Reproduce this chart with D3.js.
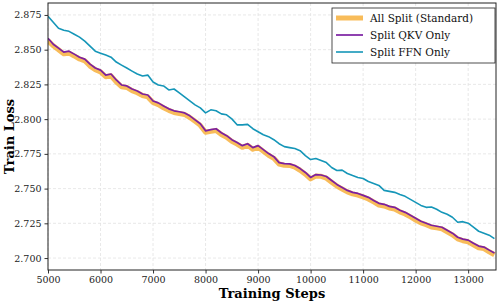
<!DOCTYPE html>
<html>
<head>
<meta charset="utf-8">
<script src="https://cdn.jsdelivr.net/npm/d3@7"></script>
<style>
  body { margin: 0; background: #fff; }
  svg { display: block; font-family: "DejaVu Serif", serif; }
</style>
</head>
<body>
<div class="chart"></div>
<script>
// Chart size
var svgWidth = 498;
var svgHeight = 303;

var margin = { top: 3, right: 2, bottom: 33, left: 48 };
var width = svgWidth - margin.left - margin.right;
var height = svgHeight - margin.top - margin.bottom;

// Data, one value every 100 steps
var steps = d3.range(5000, 13501, 100);

var allSplit = [
  2.8565, 2.8528, 2.8500, 2.8470, 2.8475, 2.8455, 2.8433, 2.8420, 2.8382, 2.8356,
  2.8340, 2.8305, 2.8312, 2.8268, 2.8233, 2.8228, 2.8205, 2.8190, 2.8170, 2.8160,
  2.8120, 2.8104, 2.8082, 2.8063, 2.8048, 2.8040, 2.8034, 2.8012, 2.7984, 2.7955,
  2.7905, 2.7912, 2.7918, 2.7890, 2.7870, 2.7840, 2.7820, 2.7797, 2.7812, 2.7783,
  2.7797, 2.7768, 2.7740, 2.7718, 2.7677, 2.7668, 2.7667, 2.7655, 2.7632, 2.7604,
  2.7570, 2.7590, 2.7588, 2.7575, 2.7546, 2.7518, 2.7497, 2.7476, 2.7462, 2.7453,
  2.7440, 2.7425, 2.7404, 2.7382, 2.7375, 2.7360, 2.7353, 2.7332, 2.7317, 2.7296,
  2.7274, 2.7253, 2.7240, 2.7224, 2.7217, 2.7210, 2.7188, 2.7167, 2.7138, 2.7125,
  2.7117, 2.7095, 2.7074, 2.7068, 2.7045, 2.7024
];

var splitQKV = [
  2.8582, 2.8539, 2.8511, 2.8482, 2.8489, 2.8468, 2.8446, 2.8432, 2.8396, 2.8368,
  2.8353, 2.8317, 2.8325, 2.8282, 2.8246, 2.8239, 2.8217, 2.8203, 2.8181, 2.8174,
  2.8131, 2.8117, 2.8095, 2.8074, 2.8060, 2.8053, 2.8045, 2.8024, 2.7995, 2.7967,
  2.7916, 2.7924, 2.7931, 2.7902, 2.7881, 2.7852, 2.7831, 2.7809, 2.7823, 2.7795,
  2.7809, 2.7780, 2.7752, 2.7730, 2.7687, 2.7680, 2.7678, 2.7666, 2.7644, 2.7616,
  2.7580, 2.7601, 2.7598, 2.7587, 2.7558, 2.7530, 2.7508, 2.7487, 2.7473, 2.7465,
  2.7451, 2.7437, 2.7415, 2.7394, 2.7387, 2.7372, 2.7365, 2.7344, 2.7329, 2.7308,
  2.7286, 2.7265, 2.7251, 2.7236, 2.7229, 2.7222, 2.7200, 2.7179, 2.7150, 2.7136,
  2.7129, 2.7107, 2.7086, 2.7079, 2.7057, 2.7036
];

var splitFFN = [
  2.8740, 2.8697, 2.8654, 2.8640, 2.8632, 2.8611, 2.8590, 2.8561, 2.8525, 2.8489,
  2.8475, 2.8461, 2.8446, 2.8411, 2.8389, 2.8368, 2.8346, 2.8325, 2.8310, 2.8317,
  2.8267, 2.8246, 2.8239, 2.8210, 2.8217, 2.8189, 2.8160, 2.8131, 2.8103, 2.8081,
  2.8045, 2.8067, 2.8060, 2.8038, 2.8031, 2.8002, 2.7959, 2.7959, 2.7962, 2.7931,
  2.7909, 2.7888, 2.7874, 2.7852, 2.7823, 2.7802, 2.7795, 2.7788, 2.7773, 2.7737,
  2.7709, 2.7716, 2.7702, 2.7687, 2.7652, 2.7630, 2.7633, 2.7609, 2.7594, 2.7580,
  2.7573, 2.7551, 2.7537, 2.7523, 2.7487, 2.7480, 2.7473, 2.7458, 2.7444, 2.7422,
  2.7401, 2.7379, 2.7365, 2.7368, 2.7351, 2.7329, 2.7315, 2.7294, 2.7258, 2.7262,
  2.7251, 2.7222, 2.7193, 2.7179, 2.7165, 2.7140
];

var xTicks = [5000, 6000, 7000, 8000, 9000, 10000, 11000, 12000, 13000];
var yTicks = [2.700, 2.725, 2.750, 2.775, 2.800, 2.825, 2.850, 2.875];

var seriesNames = ["All Split (Standard)", "Split QKV Only", "Split FFN Only"];
var seriesValues = [allSplit, splitQKV, splitFFN];
var seriesColors = ["#f5a623", "#7b1fa2", "#1596b8"];
var seriesWidths = [5, 1.7, 1.6];
var seriesOpacity = [0.75, 1, 1];

var svg = d3.select(".chart")
  .append("svg")
  .attr("width", svgWidth)
  .attr("height", svgHeight);

var chartGroup = svg.append("g")
  .attr("transform", `translate(${margin.left}, ${margin.top})`);

// scales
var xScale = d3.scaleLinear().domain([5000, 13530]).range([0, width]);
var yScale = d3.scaleLinear().domain([2.6914, 2.8836]).range([height, 0]);

// grid
chartGroup.append("g")
  .selectAll("line")
  .data(xTicks)
  .enter()
  .append("line")
  .attr("x1", d => xScale(d)).attr("x2", d => xScale(d))
  .attr("y1", 0).attr("y2", height)
  .attr("stroke", "#e2e2e2")
  .attr("stroke-width", 0.8)
  .attr("stroke-dasharray", "3,2");

chartGroup.append("g")
  .selectAll("line")
  .data(yTicks)
  .enter()
  .append("line")
  .attr("x1", 0).attr("x2", width)
  .attr("y1", d => yScale(d)).attr("y2", d => yScale(d))
  .attr("stroke", "#e2e2e2")
  .attr("stroke-width", 0.8)
  .attr("stroke-dasharray", "3,2");

// lines
var line = d3.line()
  .x((d, i) => xScale(steps[i]))
  .y(d => yScale(d));

chartGroup.append("defs").append("clipPath").attr("id", "plotClip")
  .append("rect").attr("width", width).attr("height", height);

var linesGroup = chartGroup.append("g").attr("clip-path", "url(#plotClip)");
seriesValues.forEach(function(vals, i) {
  linesGroup.append("path")
    .datum(vals)
    .attr("d", line)
    .attr("fill", "none")
    .attr("stroke", seriesColors[i])
    .attr("stroke-width", seriesWidths[i])
    .attr("stroke-opacity", seriesOpacity[i])
    .attr("stroke-linejoin", "round");
});

// axes
var bottomAxis = d3.axisBottom(xScale).tickValues(xTicks).tickFormat(d3.format("d")).tickSize(3.5).tickPadding(3);
var leftAxis = d3.axisLeft(yScale).tickValues(yTicks).tickFormat(d3.format(".3f")).tickSize(3.5).tickPadding(3);

var xAxis = chartGroup.append("g")
  .attr("transform", `translate(0, ${height})`)
  .call(bottomAxis);
var yAxis = chartGroup.append("g").call(leftAxis);

[xAxis, yAxis].forEach(function(ax) {
  ax.select(".domain").remove();
  ax.selectAll("text").attr("font-size", 9.5).attr("fill", "#222")
    .attr("font-family", "DejaVu Serif, serif");
  ax.selectAll("line").attr("stroke", "#333");
});

// frame
chartGroup.append("rect")
  .attr("width", width)
  .attr("height", height)
  .attr("fill", "none")
  .attr("stroke", "#222")
  .attr("stroke-width", 1);

// axis labels
svg.append("text")
  .attr("x", margin.left + width / 2)
  .attr("y", 298)
  .attr("text-anchor", "middle")
  .attr("font-size", 13)
  .attr("font-weight", "bold")
  .text("Training Steps");

svg.append("text")
  .attr("transform", `translate(14, ${margin.top + height / 2}) rotate(-90)`)
  .attr("text-anchor", "middle")
  .attr("font-size", 13)
  .attr("font-weight", "bold")
  .text("Train Loss");

// legend
var legend = svg.append("g").attr("transform", "translate(332, 8)");
legend.append("rect")
  .attr("width", 163)
  .attr("height", 55)
  .attr("fill", "#fff")
  .attr("stroke", "#222")
  .attr("stroke-width", 0.8);

seriesNames.forEach(function(name, i) {
  var yy = 10 + i * 17;
  legend.append("line")
    .attr("x1", 4).attr("x2", 31)
    .attr("y1", yy).attr("y2", yy)
    .attr("stroke", seriesColors[i])
    .attr("stroke-width", seriesWidths[i])
    .attr("stroke-opacity", seriesOpacity[i]);
  legend.append("text")
    .attr("x", 38)
    .attr("y", yy + 3.5)
    .attr("font-size", 10.5)
    .attr("fill", "#111")
    .text(name);
});
</script>
</body>
</html>
